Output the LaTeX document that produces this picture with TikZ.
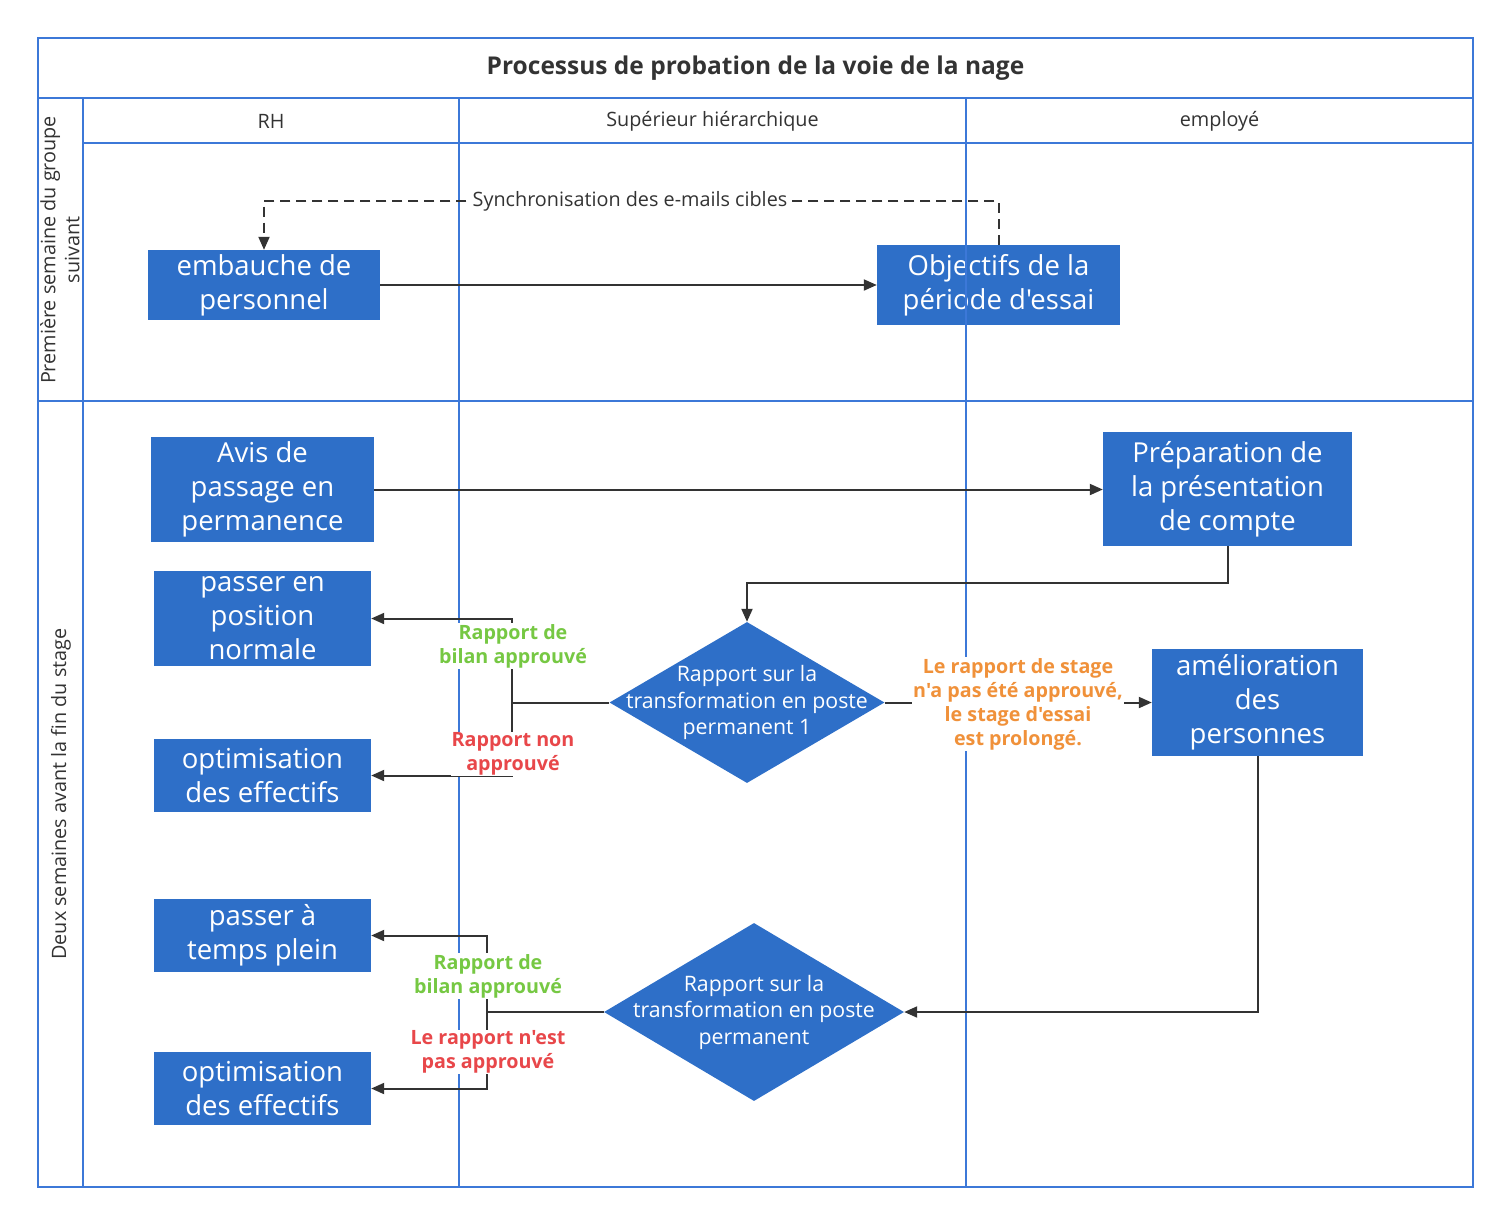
\documentclass[tikz,border=0pt]{standalone}
\usepackage{fontspec}
\setmainfont{Open Sans}[Ligatures=TeXOff]
\usetikzlibrary{shapes.geometric,arrows.meta,positioning}
\definecolor{boxblue}{HTML}{2E6FC8}
\definecolor{lanecol}{HTML}{3C78D8}
\definecolor{txtgray}{HTML}{333333}
\definecolor{okgreen}{HTML}{76C843}
\definecolor{nogred}{HTML}{E8474A}
\definecolor{warnorange}{HTML}{F0913A}
\tikzset{
  task/.style={rectangle, fill=boxblue, text=white, align=center, inner sep=0pt, font=\fontsize{27.5}{34}\selectfont},
  decision/.style={diamond, fill=boxblue, inner sep=0pt},
  dtext/.style={text=white, align=center, font=\fontsize{21.3}{26.5}\selectfont},
  arr/.style={-{Triangle[length=13pt,width=11pt]}, line width=2pt, draw=txtgray},
  flow/.style={line width=2pt, draw=txtgray},
  lane/.style={draw=lanecol, line width=1.8pt},
  cond/.style={fill=white, align=center, inner sep=1pt, font=\bfseries\fontsize{19.7}{24}\selectfont},
  head/.style={text=txtgray, align=center, font=\fontsize{19.8}{24}\selectfont},
}

\begin{document}
\begin{tikzpicture}[x=1pt,y=-1pt]
\useasboundingbox (0,0) rectangle (1510,1224);
% activity boxes
\node[task, minimum width=232pt, minimum height=70pt] (hire) at (264,285) {embauche de\\personnel};
\node[task, minimum width=243pt, minimum height=80pt] (goals) at (998.5,285) {Objectifs de la\\période d'essai};
\node[task, minimum width=223pt, minimum height=105pt] (notice) at (262.5,489.5) {Avis de\\passage en\\permanence};
\node[task, minimum width=249pt, minimum height=114pt] (prep) at (1227.5,489) {Préparation de\\la présentation\\de compte};
\node[task, minimum width=217pt, minimum height=95pt] (normal) at (262.5,618.5) {passer en\\position\\normale};
\node[task, minimum width=217pt, minimum height=73pt] (optA) at (262.5,775.5) {optimisation\\des effectifs};
\node[task, minimum width=217pt, minimum height=73pt] (full) at (262.5,935.5) {passer à\\temps plein};
\node[task, minimum width=217pt, minimum height=73pt] (optB) at (262.5,1088.5) {optimisation\\des effectifs};
\node[task, minimum width=211pt, minimum height=107pt] (improve) at (1257.5,702.5) {amélioration\\des\\personnes};
% decisions
\node[decision, minimum width=275pt, minimum height=161pt] (rep1) at (747,702.5) {};
\node[dtext] (rep1txt) at (rep1) {Rapport sur la\\transformation en poste\\permanent 1};
\node[decision, minimum width=300pt, minimum height=178pt] (rep2) at (754,1012) {};
\node[dtext] (rep2txt) at (rep2) {Rapport sur la\\transformation en poste\\permanent};

% pool and lanes
\draw[lane, line width=2.6pt] (38,38) rectangle (1473,1187);
\draw[lane] (38,98) -- (1473,98);
\draw[lane] (83,143) -- (1473,143);
\draw[lane] (38,401) -- (1473,401);
\draw[lane] (83,98) -- (83,1187);
\draw[lane] (459,98) -- (459,1187);
\draw[lane] (966,98) -- (966,1187);
\node[text=txtgray, font=\bfseries\fontsize{24.5}{28}\selectfont] (title) at (755.5,68) {Processus de probation de la voie de la nage};
\node[head] (hdrRH) at (271,121) {RH};
\node[head] (hdrSup) at (712.5,121) {Supérieur hiérarchique};
\node[head] (hdrEmp) at (1219.5,121) {employé};
\node[head, rotate=90] (row1) at (60,250) {Première semaine du groupe\\suivant};
\node[head, rotate=90] (row2) at (61,794) {Deux semaines avant la fin du stage};

% connectors
\coordinate (synctop) at (0,201);
\draw[arr, dashed, dash pattern=on 10pt off 6pt] (goals.north) -- (goals.north |- synctop) -- (hire.north |- synctop) -- (hire.north);
\node[head, fill=white, inner sep=2pt] (synclbl) at (630,201) {Synchronisation des e-mails cibles};
\draw[arr] (hire) -- (goals);
\draw[arr] (notice.east) -- (notice.east -| prep.west);
\draw[arr] (prep.south) -- ++(0,37) -| (rep1.north);

\coordinate (fork1) at (512,702.5);
\draw[flow] (rep1.west) -- (fork1);
\draw[arr] (fork1) |- (normal.east);
\draw[arr] (fork1) |- (optA.east);
\node[cond, text=okgreen] (ok1) at (513,646) {Rapport de\\bilan approuvé};
\node[cond, text=nogred] (no1) at (513,754) {Rapport non\\approuvé};

\draw[arr] (rep1.east) -- (improve.west);
\node[cond, text=warnorange] (ext1) at (1018,704) {Le rapport de stage\\n'a pas été approuvé,\\le stage d'essai\\est prolongé.};

\draw[arr] (improve.south) |- (rep2.east);
\coordinate (fork2) at (487,1012);
\draw[flow] (rep2.west) -- (fork2);
\draw[arr] (fork2) |- (full.east);
\draw[arr] (fork2) |- (optB.east);
\node[cond, text=okgreen] (ok2) at (488,976) {Rapport de\\bilan approuvé};
\node[cond, text=nogred] (no2) at (488,1052) {Le rapport n'est\\pas approuvé};
\end{tikzpicture}
\end{document}
